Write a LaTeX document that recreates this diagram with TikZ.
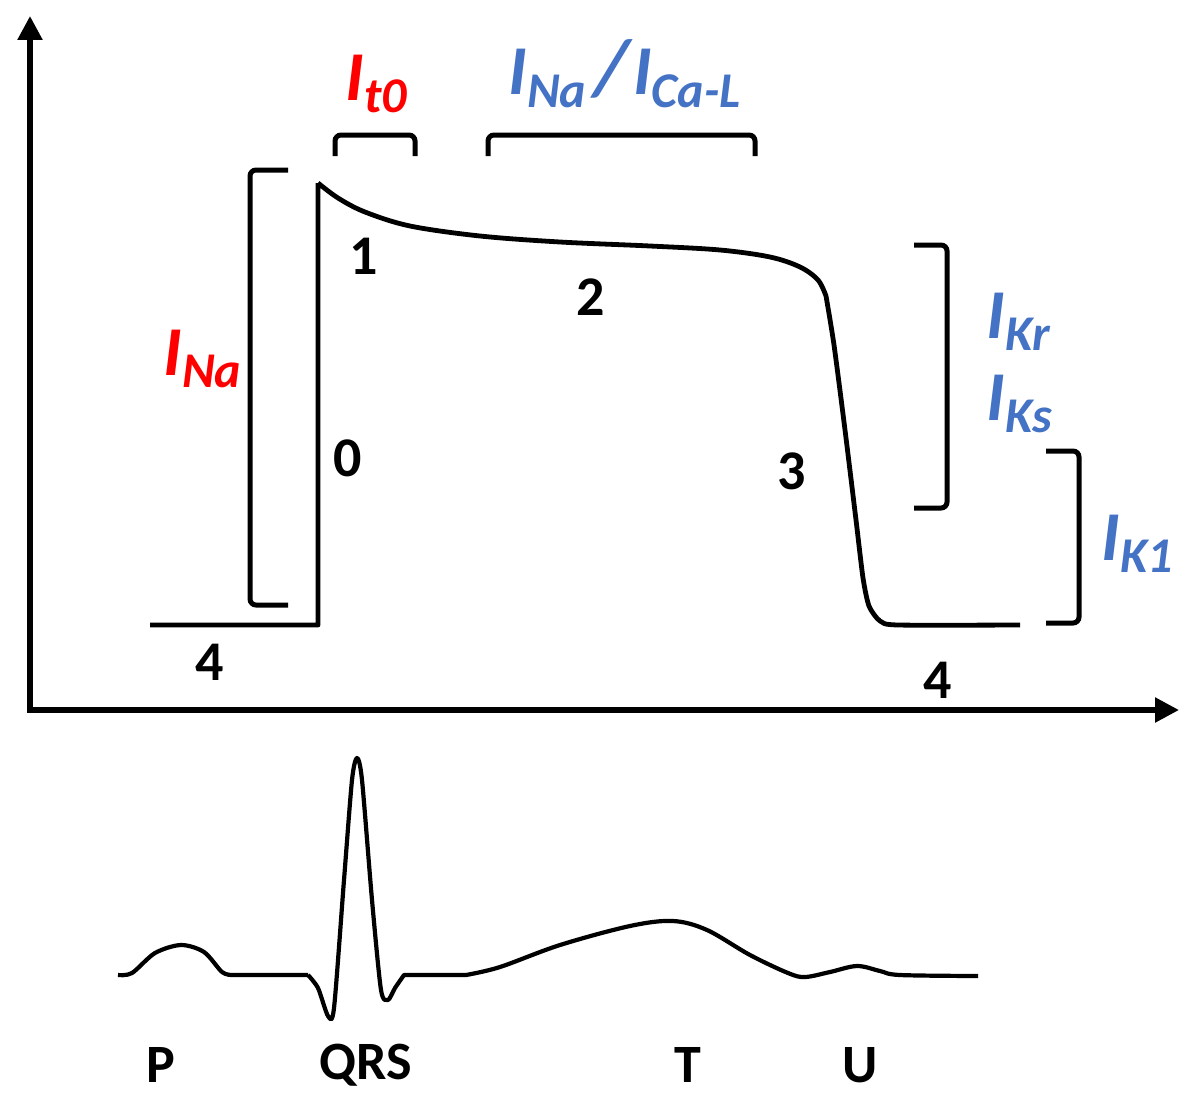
\documentclass[tikz,border=0pt]{standalone}
\usepackage{fontspec}
\setmainfont{Carlito}
\usetikzlibrary{arrows.meta}
\definecolor{cblue}{HTML}{4472C4}
\definecolor{cred}{HTML}{FF0000}
\newcommand{\Icur}[1]{{\fontsize{35}{35}\selectfont\bfseries\itshape I}\raisebox{-6pt}{\fontsize{25}{25}\selectfont\bfseries\itshape #1}}
\begin{document}
\begin{tikzpicture}[x=0.5pt,y=-0.5pt,
  axis/.style={line width=2.7pt,{Triangle[length=12pt,width=12pt]}-{Triangle[length=12pt,width=12pt]}},
  ap/.style={line width=2.4pt,line join=round},
  brk/.style={line width=2.5pt,rounded corners=3pt},
  ecg/.style={line width=2.1pt,line join=round},
  num/.style={font=\fontsize{28}{28}\selectfont\bfseries,inner sep=0pt},
  wave/.style={font=\fontsize{27}{27}\selectfont\bfseries,inner sep=0pt},
  cur/.style={inner sep=0pt,anchor=base west}]
\useasboundingbox (0,0) rectangle (1197,1113);
% axes
\coordinate (O) at (30,710);
\coordinate (Ytip) at (30,16);
\coordinate (Xtip) at (1179,710);
\draw[axis] (Ytip) -- (O) -- (Xtip);
% action potential
\draw[ap] (150,625) -- (318,625) -- (318,183)
  plot[smooth,tension=0.55] coordinates {(318,183) (338,198) (365,212) (410,226) (480,236) (560,242) (650,246) (720,250) (770,257) (800,267) (818,280) (826,296)}
  plot[smooth,tension=0.4] coordinates {(826,296) (834,345) (845,430) (856,520) (863,578) (869,606) (880,621) (898,625) (1020,625)};
% brackets
\draw[brk] (288,170) -- (250,170) -- (250,605) -- (288,605);
\draw[brk] (335,156) -- (335,135) -- (415,135) -- (415,156);
\draw[brk] (488,156) -- (488,135) -- (755,135) -- (755,156);
\draw[brk] (914,245) -- (947,245) -- (947,508) -- (914,508);
\draw[brk] (1046,451) -- (1079,451) -- (1079,623) -- (1046,623);
% current labels
\node[cur,text=cred] (ina) at (163,375) {\Icur{Na}};
\node[cur,text=cred] (ito) at (345,100) {\Icur{t0}};
\node[cur,text=cblue] (inacal) at (508,95) {\Icur{Na}{\fontsize{40}{40}\selectfont\bfseries\itshape\kern4pt/\kern2pt}\Icur{Ca-L}};
\node[cur,text=cblue] (ikr) at (986,338) {\Icur{Kr}};
\node[cur,text=cblue] (iks) at (986,420) {\Icur{Ks}};
\node[cur,text=cblue] (ik1) at (1101,560) {\Icur{K1}};
% phase numbers
\node[num] (p0) at (348,458) {0};
\node[num] (p1) at (364,256) {1};
\node[num] (p2) at (591,297) {2};
\node[num] (p3) at (792,471) {3};
\node[num] (p4a) at (210,662) {4};
\node[num] (p4b) at (938,680) {4};
% ECG
\draw[ecg] plot[smooth,tension=0.5] coordinates {(118,975) (132,973) (155,953) (181,945) (204,952) (222,972) (232,975)}
  -- (308,975)
  plot[smooth,tension=0.45] coordinates {(308,975) (318,988) (328,1016) (334,1008) (344,880) (352,780) (357,758) (362,780) (372,900) (381,990) (388,1000) (395,988) (404,975)}
  -- (466,975)
  plot[smooth,tension=0.55] coordinates {(466,975) (500,967) (560,945) (630,926) (673,921) (707,930) (750,955) (788,973) (805,977) (830,972) (857,966) (880,971) (900,975) (978,976)};
% ECG labels
\node[wave] (wp) at (161,1065) {P};
\node[wave] (wqrs) at (366,1065) {QRS};
\node[wave] (wt) at (688,1065) {T};
\node[wave] (wu) at (860,1065) {U};
\end{tikzpicture}
\end{document}
